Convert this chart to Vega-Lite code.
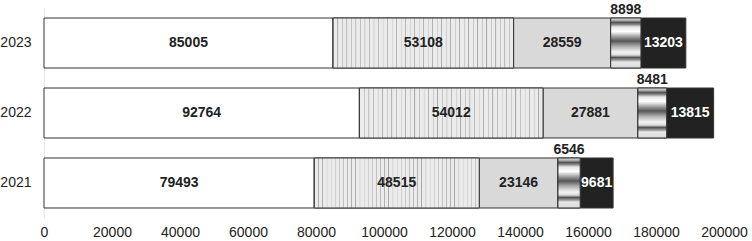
{
  "$schema": "https://vega.github.io/schema/vega-lite/v6.json",
  "autosize": {"type": "none"},
  "padding": {"left": 44, "top": 8, "right": 28, "bottom": 23},
  "width": 680,
  "height": 210,
  "background": "white",
  "config": {"view": {"stroke": null}, "font": "Liberation Sans"},
  "data": {"values": [
    {"year": "2023", "seg": "A", "order": 1, "value": 85005},
    {"year": "2023", "seg": "B", "order": 2, "value": 53108},
    {"year": "2023", "seg": "C", "order": 3, "value": 28559},
    {"year": "2023", "seg": "D", "order": 4, "value": 8898},
    {"year": "2023", "seg": "E", "order": 5, "value": 13203},
    {"year": "2022", "seg": "A", "order": 1, "value": 92764},
    {"year": "2022", "seg": "B", "order": 2, "value": 54012},
    {"year": "2022", "seg": "C", "order": 3, "value": 27881},
    {"year": "2022", "seg": "D", "order": 4, "value": 8481},
    {"year": "2022", "seg": "E", "order": 5, "value": 13815},
    {"year": "2021", "seg": "A", "order": 1, "value": 79493},
    {"year": "2021", "seg": "B", "order": 2, "value": 48515},
    {"year": "2021", "seg": "C", "order": 3, "value": 23146},
    {"year": "2021", "seg": "D", "order": 4, "value": 6546},
    {"year": "2021", "seg": "E", "order": 5, "value": 9681}
  ]},
  "transform": [
    {"stack": "value", "groupby": ["year"], "sort": [{"field": "order"}], "as": ["x0", "x1"]},
    {"calculate": "(datum.x0 + datum.x1) / 2", "as": "mid"}
  ],
  "encoding": {
    "y": {
      "field": "year", "type": "nominal", "sort": ["2023", "2022", "2021"],
      "scale": {"paddingInner": 0.2857, "paddingOuter": 0.1429},
      "axis": {"title": null, "ticks": false, "domainColor": "#e6e6e6", "labelFontSize": 14, "labelColor": "#222", "labelPadding": 13, "labelFont": "Liberation Sans"}
    }
  },
  "layer": [
    {
      "mark": {"type": "bar", "stroke": "#333", "strokeWidth": 1},
      "encoding": {
        "x": {
          "field": "x0", "type": "quantitative",
          "scale": {"domain": [0, 200000], "nice": false},
          "axis": {"title": null, "grid": false, "domain": false, "ticks": false, "format": "d", "labelOverlap": false, "values": [0,20000,40000,60000,80000,100000,120000,140000,160000,180000,200000], "labelFontSize": 14, "labelColor": "#222", "labelPadding": 7, "labelFlush": false, "labelFont": "Liberation Sans"}
        },
        "x2": {"field": "x1"},
        "fill": {
          "field": "seg", "type": "nominal", "legend": null,
          "scale": {"domain": ["A", "B", "C", "D", "E"], "range": ["#ffffff", "#e6e6e6", "#d9d9d9", "#cccccc", "#222222"]}
        }
      }
    },
    {
      "transform": [{"filter": "datum.seg === 'B'"}],
      "mark": {
        "type": "bar", "stroke": "#333", "strokeWidth": 1,
        "fill": {
          "gradient": "linear", "x1": 0, "y1": 0, "x2": 1, "y2": 0,
          "stops": [
            {"offset": 0, "color": "#a8a8a8"}, {"offset": 0.006, "color": "#ebebeb"}, {"offset": 0.024, "color": "#ebebeb"},
            {"offset": 0.025, "color": "#a8a8a8"}, {"offset": 0.031, "color": "#ebebeb"}, {"offset": 0.049, "color": "#ebebeb"},
            {"offset": 0.05, "color": "#a8a8a8"}, {"offset": 0.056, "color": "#ebebeb"}, {"offset": 0.074, "color": "#ebebeb"},
            {"offset": 0.075, "color": "#a8a8a8"}, {"offset": 0.081, "color": "#ebebeb"}, {"offset": 0.099, "color": "#ebebeb"},
            {"offset": 0.1, "color": "#a8a8a8"}, {"offset": 0.106, "color": "#ebebeb"}, {"offset": 0.124, "color": "#ebebeb"},
            {"offset": 0.125, "color": "#a8a8a8"}, {"offset": 0.131, "color": "#ebebeb"}, {"offset": 0.149, "color": "#ebebeb"},
            {"offset": 0.15, "color": "#a8a8a8"}, {"offset": 0.156, "color": "#ebebeb"}, {"offset": 0.174, "color": "#ebebeb"},
            {"offset": 0.175, "color": "#a8a8a8"}, {"offset": 0.181, "color": "#ebebeb"}, {"offset": 0.199, "color": "#ebebeb"},
            {"offset": 0.2, "color": "#a8a8a8"}, {"offset": 0.206, "color": "#ebebeb"}, {"offset": 0.224, "color": "#ebebeb"},
            {"offset": 0.225, "color": "#a8a8a8"}, {"offset": 0.231, "color": "#ebebeb"}, {"offset": 0.249, "color": "#ebebeb"},
            {"offset": 0.25, "color": "#a8a8a8"}, {"offset": 0.256, "color": "#ebebeb"}, {"offset": 0.274, "color": "#ebebeb"},
            {"offset": 0.275, "color": "#a8a8a8"}, {"offset": 0.281, "color": "#ebebeb"}, {"offset": 0.299, "color": "#ebebeb"},
            {"offset": 0.3, "color": "#a8a8a8"}, {"offset": 0.306, "color": "#ebebeb"}, {"offset": 0.324, "color": "#ebebeb"},
            {"offset": 0.325, "color": "#a8a8a8"}, {"offset": 0.331, "color": "#ebebeb"}, {"offset": 0.349, "color": "#ebebeb"},
            {"offset": 0.35, "color": "#a8a8a8"}, {"offset": 0.356, "color": "#ebebeb"}, {"offset": 0.374, "color": "#ebebeb"},
            {"offset": 0.375, "color": "#a8a8a8"}, {"offset": 0.381, "color": "#ebebeb"}, {"offset": 0.399, "color": "#ebebeb"},
            {"offset": 0.4, "color": "#a8a8a8"}, {"offset": 0.406, "color": "#ebebeb"}, {"offset": 0.424, "color": "#ebebeb"},
            {"offset": 0.425, "color": "#a8a8a8"}, {"offset": 0.431, "color": "#ebebeb"}, {"offset": 0.449, "color": "#ebebeb"},
            {"offset": 0.45, "color": "#a8a8a8"}, {"offset": 0.456, "color": "#ebebeb"}, {"offset": 0.474, "color": "#ebebeb"},
            {"offset": 0.475, "color": "#a8a8a8"}, {"offset": 0.481, "color": "#ebebeb"}, {"offset": 0.499, "color": "#ebebeb"},
            {"offset": 0.5, "color": "#a8a8a8"}, {"offset": 0.506, "color": "#ebebeb"}, {"offset": 0.524, "color": "#ebebeb"},
            {"offset": 0.525, "color": "#a8a8a8"}, {"offset": 0.531, "color": "#ebebeb"}, {"offset": 0.549, "color": "#ebebeb"},
            {"offset": 0.55, "color": "#a8a8a8"}, {"offset": 0.556, "color": "#ebebeb"}, {"offset": 0.574, "color": "#ebebeb"},
            {"offset": 0.575, "color": "#a8a8a8"}, {"offset": 0.581, "color": "#ebebeb"}, {"offset": 0.599, "color": "#ebebeb"},
            {"offset": 0.6, "color": "#a8a8a8"}, {"offset": 0.606, "color": "#ebebeb"}, {"offset": 0.624, "color": "#ebebeb"},
            {"offset": 0.625, "color": "#a8a8a8"}, {"offset": 0.631, "color": "#ebebeb"}, {"offset": 0.649, "color": "#ebebeb"},
            {"offset": 0.65, "color": "#a8a8a8"}, {"offset": 0.656, "color": "#ebebeb"}, {"offset": 0.674, "color": "#ebebeb"},
            {"offset": 0.675, "color": "#a8a8a8"}, {"offset": 0.681, "color": "#ebebeb"}, {"offset": 0.699, "color": "#ebebeb"},
            {"offset": 0.7, "color": "#a8a8a8"}, {"offset": 0.706, "color": "#ebebeb"}, {"offset": 0.724, "color": "#ebebeb"},
            {"offset": 0.725, "color": "#a8a8a8"}, {"offset": 0.731, "color": "#ebebeb"}, {"offset": 0.749, "color": "#ebebeb"},
            {"offset": 0.75, "color": "#a8a8a8"}, {"offset": 0.756, "color": "#ebebeb"}, {"offset": 0.774, "color": "#ebebeb"},
            {"offset": 0.775, "color": "#a8a8a8"}, {"offset": 0.781, "color": "#ebebeb"}, {"offset": 0.799, "color": "#ebebeb"},
            {"offset": 0.8, "color": "#a8a8a8"}, {"offset": 0.806, "color": "#ebebeb"}, {"offset": 0.824, "color": "#ebebeb"},
            {"offset": 0.825, "color": "#a8a8a8"}, {"offset": 0.831, "color": "#ebebeb"}, {"offset": 0.849, "color": "#ebebeb"},
            {"offset": 0.85, "color": "#a8a8a8"}, {"offset": 0.856, "color": "#ebebeb"}, {"offset": 0.874, "color": "#ebebeb"},
            {"offset": 0.875, "color": "#a8a8a8"}, {"offset": 0.881, "color": "#ebebeb"}, {"offset": 0.899, "color": "#ebebeb"},
            {"offset": 0.9, "color": "#a8a8a8"}, {"offset": 0.906, "color": "#ebebeb"}, {"offset": 0.924, "color": "#ebebeb"},
            {"offset": 0.925, "color": "#a8a8a8"}, {"offset": 0.931, "color": "#ebebeb"}, {"offset": 0.949, "color": "#ebebeb"},
            {"offset": 0.95, "color": "#a8a8a8"}, {"offset": 0.956, "color": "#ebebeb"}, {"offset": 0.974, "color": "#ebebeb"},
            {"offset": 0.975, "color": "#a8a8a8"}, {"offset": 0.981, "color": "#ebebeb"}, {"offset": 1, "color": "#ebebeb"}
          ]
        }
      },
      "encoding": {
        "x": {"field": "x0", "type": "quantitative"},
        "x2": {"field": "x1"}
      }
    },
    {
      "transform": [{"filter": "datum.seg === 'D'"}],
      "mark": {
        "type": "bar", "stroke": "#333", "strokeWidth": 1,
        "fill": {
          "gradient": "linear", "x1": 0, "y1": 0, "x2": 0, "y2": 1,
          "stops": [
            {"offset": 0, "color": "#d8d8d8"},
            {"offset": 0.04, "color": "#bbbbbb"},
            {"offset": 0.09, "color": "#555555"},
            {"offset": 0.13, "color": "#888888"},
            {"offset": 0.18, "color": "#e8e8e8"},
            {"offset": 0.27, "color": "#ffffff"},
            {"offset": 0.38, "color": "#999999"},
            {"offset": 0.46, "color": "#555555"},
            {"offset": 0.56, "color": "#aaaaaa"},
            {"offset": 0.68, "color": "#f4f4f4"},
            {"offset": 0.74, "color": "#dddddd"},
            {"offset": 0.79, "color": "#555555"},
            {"offset": 0.84, "color": "#999999"},
            {"offset": 0.88, "color": "#e8e8e8"},
            {"offset": 1, "color": "#d8d8d8"}
          ]
        }
      },
      "encoding": {
        "x": {"field": "x0", "type": "quantitative"},
        "x2": {"field": "x1"}
      }
    },
    {
      "transform": [{"filter": "datum.seg !== 'D'"}],
      "mark": {"type": "text", "fontWeight": "bold", "fontSize": 14, "baseline": "middle", "align": "center", "font": "Liberation Sans"},
      "encoding": {
        "x": {"field": "mid", "type": "quantitative"},
        "text": {"field": "value", "type": "quantitative", "format": "d"},
        "color": {
          "condition": {"test": "datum.seg === 'E'", "value": "#ffffff"},
          "value": "#222222"
        }
      }
    },
    {
      "transform": [{"filter": "datum.seg === 'D'"}],
      "mark": {"type": "text", "fontWeight": "bold", "fontSize": 14, "baseline": "alphabetic", "align": "center", "dy": -29, "color": "#222222", "font": "Liberation Sans"},
      "encoding": {
        "x": {"field": "mid", "type": "quantitative"},
        "text": {"field": "value", "type": "quantitative", "format": "d"}
      }
    }
  ]
}
